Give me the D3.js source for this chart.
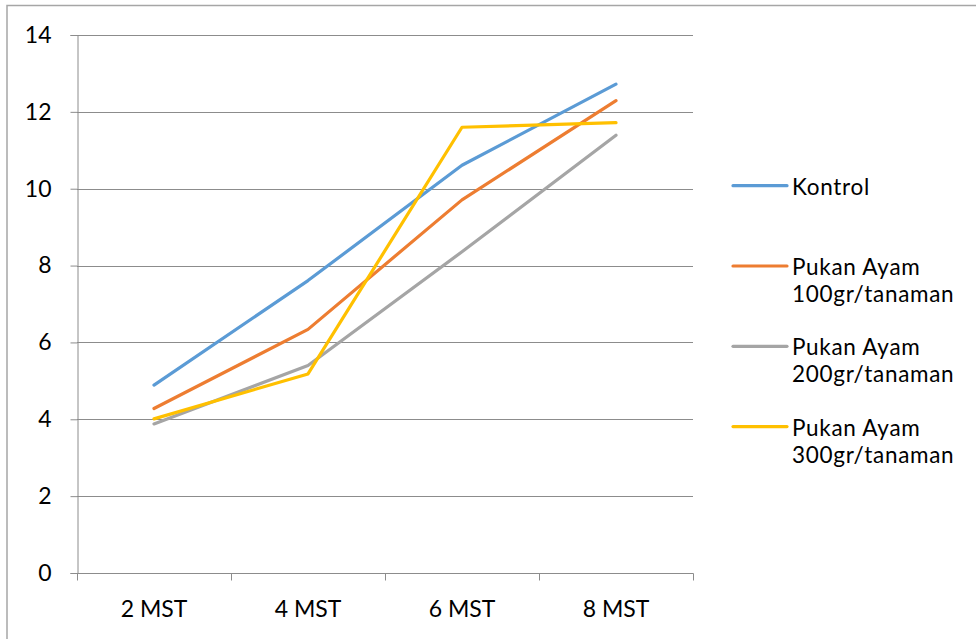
<!DOCTYPE html>
<html>
<head>
<meta charset="utf-8">
<script src="https://cdn.jsdelivr.net/npm/d3@7"></script>
<style>
  html, body { margin: 0; padding: 0; background: #fff; }
  svg { display: block; }
  text { font-family: Lato, "Open Sans", sans-serif; fill: #000; }
</style>
</head>
<body>
<svg id="chart" width="976" height="639"></svg>
<script>
const categories = ["2 MST", "4 MST", "6 MST", "8 MST"];
const yTicks = [0, 2, 4, 6, 8, 10, 12, 14];
const seriesNames = ["Kontrol", "Pukan Ayam 100gr/tanaman", "Pukan Ayam 200gr/tanaman", "Pukan Ayam 300gr/tanaman"];
const legendLines = [["Kontrol"], ["Pukan Ayam", "100gr/tanaman"], ["Pukan Ayam", "200gr/tanaman"], ["Pukan Ayam", "300gr/tanaman"]];
const kontrol = [4.89, 7.61, 10.61, 12.72];
const ayam100 = [4.28, 6.34, 9.71, 12.29];
const ayam200 = [3.88, 5.40, 8.36, 11.39];
const ayam300 = [4.01, 5.18, 11.60, 11.72];
const seriesValues = [kontrol, ayam100, ayam200, ayam300];
const colors = ["#5B9BD5", "#ED7D31", "#A5A5A5", "#FFC000"];

const svg = d3.select("#chart");

// outer frame
svg.append("rect")
  .attr("x", 7).attr("y", 5.5).attr("width", 975).attr("height", 640)
  .attr("fill", "none").attr("stroke", "#A6A6A6").attr("stroke-width", 1.5);

const plot = { left: 77, right: 693, top: 35, bottom: 573 };

const x = d3.scaleBand().domain(categories).range([plot.left, plot.right]).paddingInner(0).paddingOuter(0);
const y = d3.scaleLinear().domain([0, 14]).range([plot.bottom, plot.top]);

// gridlines
svg.append("g").selectAll("line").data(yTicks.filter(d => d !== 0)).join("line")
  .attr("x1", plot.left).attr("x2", plot.right)
  .attr("y1", d => Math.round(y(d)) + 0.5).attr("y2", d => Math.round(y(d)) + 0.5)
  .attr("stroke", "#8C8C8C").attr("stroke-width", 1);

// y axis
const yAxis = svg.append("g")
  .attr("transform", `translate(${plot.left + 0.5},0)`)
  .call(d3.axisLeft(y).tickValues(yTicks).tickSize(7).tickPadding(19).tickFormat(d3.format("d")));
yAxis.select(".domain").attr("stroke", "#8C8C8C");
yAxis.selectAll(".tick line").attr("stroke", "#8C8C8C");
yAxis.selectAll(".tick text")
  .style("font-family", "Lato, 'Open Sans', sans-serif")
  .attr("font-size", 23).attr("fill", "#000");

// x axis
const xAxis = svg.append("g")
  .attr("transform", `translate(0,${plot.bottom + 0.5})`)
  .call(d3.axisBottom(x).tickSize(0).tickPadding(0));
xAxis.select(".domain").remove();
xAxis.append("line").attr("x1", plot.left).attr("x2", plot.right + 0.5)
  .attr("y1", 0).attr("y2", 0).attr("stroke", "#8C8C8C");
xAxis.selectAll(".tick line").remove();
xAxis.selectAll(".tick text")
  .style("font-family", "Lato, 'Open Sans', sans-serif")
  .attr("font-size", 23).attr("fill", "#000")
  .attr("dy", null).attr("y", 43.5);
// category boundary ticks
const boundaries = categories.map(c => x(c)).concat([x(categories[categories.length - 1]) + x.bandwidth()]);
xAxis.selectAll(".bt").data(boundaries).join("line")
  .attr("class", "bt")
  .attr("x1", d => Math.round(d) + 0.5).attr("x2", d => Math.round(d) + 0.5)
  .attr("y1", 0).attr("y2", 7)
  .attr("stroke", "#8C8C8C");

// series lines
const line = d3.line()
  .x((d, i) => x(categories[i]) + x.bandwidth() / 2)
  .y(d => y(d));

svg.append("g").selectAll("path").data(seriesValues).join("path")
  .attr("d", d => line(d))
  .attr("fill", "none")
  .attr("stroke", (d, i) => colors[i])
  .attr("stroke-width", 3.2)
  .attr("stroke-linecap", "round")
  .attr("stroke-linejoin", "round");

// legend
const legend = svg.append("g");
const legendTop = 185.7, legendStep = 80.3;
const items = legend.selectAll("g").data(seriesNames).join("g")
  .attr("transform", (d, i) => `translate(0,${legendTop + i * legendStep})`);
items.append("line")
  .attr("x1", 733).attr("x2", 787).attr("y1", 0).attr("y2", 0)
  .attr("stroke", (d, i) => colors[i]).attr("stroke-width", 3.2)
  .attr("stroke-linecap", "round");
items.append("text")
  .attr("x", 792).attr("y", 9)
  .attr("font-size", 22.5)
  .attr("letter-spacing", 0.7)
  .selectAll("tspan").data((d, i) => legendLines[i]).join("tspan")
  .attr("x", 792).attr("dy", (d, j) => j === 0 ? 0 : 27)
  .text(d => d);
</script>
</body>
</html>
